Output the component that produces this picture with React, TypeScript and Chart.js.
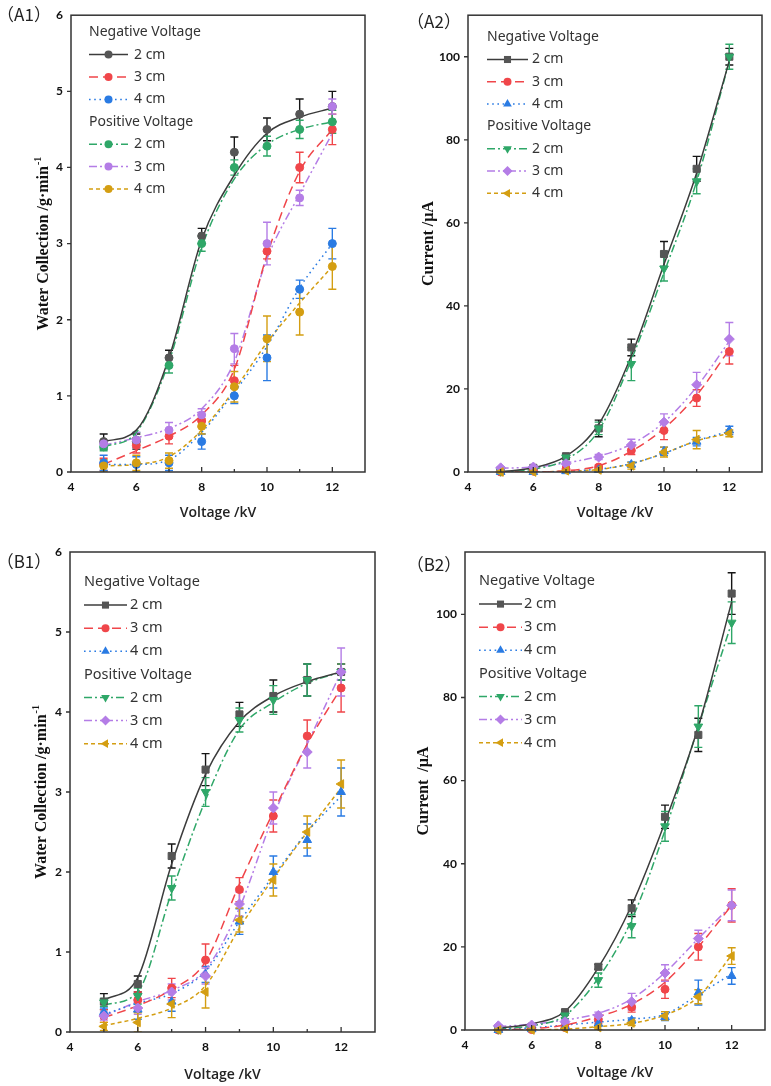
import React, { useEffect, useRef } from 'react';
import { Chart, registerables } from 'chart.js';

Chart.register(...registerables);

// Applied voltage (kV) shared by every series
const voltageKV = [5, 6, 7, 8, 9, 10, 11, 12];

// ---- (A1) water collection, g/min ----
const a1Neg2 = [0.4, 0.4, 1.5, 3.1, 4.2, 4.5, 4.7, 4.8];
const a1Neg2Err = [0.1, 0.1, 0.1, 0.1, 0.2, 0.15, 0.2, 0.2];
const a1Neg2Fit = [0.4, 0.55, 1.5, 3.05, 3.9, 4.45, 4.66, 4.78];
const a1Neg3 = [0.1, 0.35, 0.47, 0.67, 1.2, 2.9, 4.0, 4.5];
const a1Neg3Err = [0.08, 0.1, 0.1, 0.08, 0.2, 0.1, 0.2, 0.2];
const a1Neg3Fit = [0.1, 0.28, 0.47, 0.75, 1.35, 2.85, 3.95, 4.5];
const a1Neg4 = [0.12, 0.1, 0.12, 0.4, 1.0, 1.5, 2.4, 3.0];
const a1Neg4Err = [0.1, 0.1, 0.1, 0.1, 0.1, 0.3, 0.12, 0.2];
const a1Neg4Fit = [0.1, 0.1, 0.16, 0.52, 1.05, 1.65, 2.42, 3.0];
const a1Pos2 = [0.33, 0.42, 1.4, 3.0, 4.0, 4.28, 4.5, 4.6];
const a1Pos2Err = [0.05, 0.1, 0.1, 0.1, 0.1, 0.13, 0.12, 0.15];
const a1Pos2Fit = [0.33, 0.52, 1.45, 2.95, 3.85, 4.3, 4.5, 4.6];
const a1Pos3 = [0.37, 0.42, 0.55, 0.75, 1.62, 3.0, 3.6, 4.8];
const a1Pos3Err = [0.05, 0.1, 0.1, 0.08, 0.2, 0.28, 0.1, 0.1];
const a1Pos3Fit = [0.35, 0.45, 0.57, 0.83, 1.45, 2.8, 3.65, 4.45];
const a1Pos4 = [0.08, 0.12, 0.15, 0.6, 1.12, 1.75, 2.1, 2.7];
const a1Pos4Err = [0.08, 0.1, 0.1, 0.1, 0.2, 0.3, 0.3, 0.3];
const a1Pos4Fit = [0.08, 0.1, 0.2, 0.55, 1.08, 1.7, 2.22, 2.7];

// ---- (A2) current, uA ----
const a2Neg2 = [0.3, 1, 3.8, 10.5, 30, 52.5, 73, 100];
const a2Neg2Err = [0.2, 0.3, 0.5, 2, 2, 3, 3, 2];
const a2Neg2Fit = [0.1, 1, 3.8, 11.5, 28, 50, 72, 99];
const a2Neg3 = [0, 0.2, 0.7, 1.2, 5.2, 10, 17.8, 29];
const a2Neg3Err = [0.2, 0.2, 0.5, 0.5, 1, 2.2, 2, 3];
const a2Neg3Fit = [0, 0, 0.3, 1.5, 5, 10.5, 18.5, 29.5];
const a2Neg4 = [0, 0, 0.2, 0.5, 1.8, 5, 7.3, 10];
const a2Neg4Err = [0.1, 0.1, 0.2, 0.3, 0.6, 1, 1, 1];
const a2Neg4Fit = [0, 0, 0.2, 0.7, 2, 4.5, 7.5, 9.8];
const a2Pos2 = [0.2, 0.8, 3.5, 10.5, 26, 49, 70, 100];
const a2Pos2Err = [0.2, 0.3, 0.5, 1.5, 4, 3, 3, 3];
const a2Pos2Fit = [0, 0.7, 3, 10, 27, 48, 70, 99];
const a2Pos3 = [1, 1.2, 2, 3.6, 6.5, 12, 21, 32];
const a2Pos3Err = [0.3, 0.3, 0.5, 0.6, 1.4, 2, 3, 4];
const a2Pos3Fit = [0.9, 1.2, 2.2, 3.8, 6.7, 12, 20.5, 31.5];
const a2Pos4 = [0, 0, 0.3, 0.5, 1.5, 4.8, 7.8, 9.3];
const a2Pos4Err = [0.1, 0.1, 0.3, 0.5, 0.8, 1.2, 2.2, 0.8];
const a2Pos4Fit = [0, 0, 0.2, 0.6, 2, 4.5, 7.5, 9.3];

// ---- (B1) water collection, g/min ----
const b1Neg2 = [0.38, 0.6, 2.2, 3.28, 3.97, 4.2, 4.4, 4.5];
const b1Neg2Err = [0.1, 0.1, 0.15, 0.2, 0.15, 0.2, 0.2, 0.1];
const b1Neg2Fit = [0.4, 0.68, 2.1, 3.22, 3.88, 4.2, 4.38, 4.5];
const b1Neg3 = [0.2, 0.4, 0.55, 0.9, 1.78, 2.7, 3.7, 4.3];
const b1Neg3Err = [0.08, 0.1, 0.12, 0.2, 0.15, 0.2, 0.2, 0.3];
const b1Neg3Fit = [0.18, 0.33, 0.53, 0.88, 1.85, 2.75, 3.6, 4.3];
const b1Neg4 = [0.25, 0.28, 0.38, 0.72, 1.38, 2.0, 2.4, 3.0];
const b1Neg4Err = [0.05, 0.12, 0.12, 0.1, 0.16, 0.2, 0.2, 0.3];
const b1Neg4Fit = [0.22, 0.36, 0.48, 0.76, 1.38, 1.95, 2.5, 2.95];
const b1Pos2 = [0.37, 0.45, 1.8, 3.0, 3.9, 4.15, 4.4, 4.5];
const b1Pos2Err = [0.05, 0.1, 0.15, 0.18, 0.15, 0.18, 0.2, 0.1];
const b1Pos2Fit = [0.34, 0.5, 1.75, 2.9, 3.78, 4.12, 4.36, 4.5];
const b1Pos3 = [0.2, 0.3, 0.5, 0.7, 1.6, 2.8, 3.5, 4.5];
const b1Pos3Err = [0.05, 0.08, 0.1, 0.1, 0.15, 0.2, 0.2, 0.3];
const b1Pos3Fit = [0.2, 0.38, 0.52, 0.78, 1.55, 2.7, 3.6, 4.5];
const b1Pos4 = [0.07, 0.12, 0.35, 0.5, 1.4, 1.9, 2.5, 3.1];
const b1Pos4Err = [0.05, 0.12, 0.17, 0.2, 0.15, 0.2, 0.2, 0.3];
const b1Pos4Fit = [0.08, 0.17, 0.3, 0.58, 1.3, 1.92, 2.5, 3.05];

// ---- (B2) current, uA ----
const b2Neg2 = [0.3, 0.8, 4.3, 15.2, 29.3, 51.3, 71, 105];
const b2Neg2Err = [0.2, 0.3, 0.6, 0.6, 2, 2.8, 4, 5];
const b2Neg2Fit = [0.4, 1.5, 4.5, 15, 30, 50, 73, 103];
const b2Neg3 = [0, 0.1, 0.6, 2.5, 5.5, 9.8, 20, 30];
const b2Neg3Err = [0.1, 0.2, 0.4, 1, 1.2, 2.2, 3.2, 4];
const b2Neg3Fit = [0, 0.3, 1.2, 3.2, 6.2, 11.5, 20, 30];
const b2Neg4 = [0, 0.2, 0.8, 1.5, 2.3, 3.1, 9, 13];
const b2Neg4Err = [0.1, 0.2, 0.3, 0.5, 0.6, 0.8, 3, 2];
const b2Neg4Fit = [0.1, 0.5, 1.2, 1.9, 2.6, 3.8, 8.5, 13.5];
const b2Pos2 = [0.2, 0.6, 3.5, 12, 25, 49, 73, 98];
const b2Pos2Err = [0.2, 0.3, 0.8, 1.7, 2.8, 3.6, 5, 5];
const b2Pos2Fit = [0.2, 1, 3.5, 12.5, 26.5, 48, 73, 98];
const b2Pos3 = [1, 1.2, 2, 3.5, 6.8, 13.7, 22, 30];
const b2Pos3Err = [0.3, 0.3, 0.5, 0.8, 2, 2, 2, 3.7];
const b2Pos3Fit = [0.8, 1.4, 2.4, 4, 7.5, 13.8, 22, 30];
const b2Pos4 = [0, 0, 0.3, 0.6, 1.7, 3.4, 8, 17.8];
const b2Pos4Err = [0.1, 0.1, 0.2, 0.5, 0.6, 1, 1.7, 2];
const b2Pos4Fit = [0, 0.05, 0.2, 0.8, 1.6, 3.6, 8, 18];

const legendHeaders = ['Negative Voltage', 'Positive Voltage'];
const gapLabels = ['2 cm', '3 cm', '4 cm'];

type MarkerKind = 'circle' | 'rect' | 'triangle' | 'triangleDown' | 'rectRot' | 'triangleLeft';

interface SeriesStyle {
  color: string;
  lineColor: string;
  errColor: string;
  dash: number[];
  marker: MarkerKind;
}

// Order: negative 2/3/4 cm, positive 2/3/4 cm
const seriesStyles: SeriesStyle[] = [
  { color: '#555555', lineColor: '#3c3c3c', errColor: '#151515', dash: [], marker: 'rect' },
  { color: '#f0464a', lineColor: '#f0464a', errColor: '#f0464a', dash: [9, 5], marker: 'circle' },
  { color: '#2a7be3', lineColor: '#2a7be3', errColor: '#2a7be3', dash: [1.6, 3.6], marker: 'triangle' },
  { color: '#2fa768', lineColor: '#2fa768', errColor: '#2fa768', dash: [8, 3, 2, 3], marker: 'triangleDown' },
  { color: '#b47de6', lineColor: '#b47de6', errColor: '#b47de6', dash: [8, 3, 2, 3, 2, 3], marker: 'rectRot' },
  { color: '#d49e12', lineColor: '#d49e12', errColor: '#d49e12', dash: [4, 3], marker: 'triangleLeft' },
];

const markerGeom: Record<MarkerKind, { style: string; rotation: number; radius: number }> = {
  circle: { style: 'circle', rotation: 0, radius: 4 },
  rect: { style: 'rect', rotation: 0, radius: 5 },
  triangle: { style: 'triangle', rotation: 0, radius: 5 },
  triangleDown: { style: 'triangle', rotation: 180, radius: 5 },
  rectRot: { style: 'rectRot', rotation: 0, radius: 5 },
  triangleLeft: { style: 'triangle', rotation: 270, radius: 5 },
};

interface Series { values: number[]; err: number[]; fit: number[] }

interface PanelCfg {
  id: string;
  label: string;
  box: { left: number; top: number; w: number; h: number };
  plot: { l: number; r: number; t: number; b: number };
  yMax: number;
  yStep: number;
  yTitle: string;
  ySup: string;
  yTitleX: number;
  xTitleY: number;
  labelPos: [number, number];
  allCircles: boolean;
  legend: { top: number; step: number; lineX: number; lineLen: number; textX: number; font: number };
  series: Series[];
}

const panels: PanelCfg[] = [
  {
    id: 'A1', label: '（A1）',
    box: { left: 0, top: 0, w: 385, h: 535 },
    plot: { l: 71, r: 365, t: 9, b: 472 },
    yMax: 6, yStep: 1, yTitle: 'Water Collection /g·min', ySup: '-1', yTitleX: 44, xTitleY: 513,
    labelPos: [24, 15], allCircles: true,
    legend: { top: 17, step: 22.4, lineX: 18, lineLen: 39, textX: 63, font: 14 },
    series: [
      { values: a1Neg2, err: a1Neg2Err, fit: a1Neg2Fit },
      { values: a1Neg3, err: a1Neg3Err, fit: a1Neg3Fit },
      { values: a1Neg4, err: a1Neg4Err, fit: a1Neg4Fit },
      { values: a1Pos2, err: a1Pos2Err, fit: a1Pos2Fit },
      { values: a1Pos3, err: a1Pos3Err, fit: a1Pos3Fit },
      { values: a1Pos4, err: a1Pos4Err, fit: a1Pos4Fit },
    ],
  },
  {
    id: 'A2', label: '（A2）',
    box: { left: 385, top: 0, w: 386, h: 535 },
    plot: { l: 83, r: 377, t: 9, b: 472 },
    yMax: 110, yStep: 20, yTitle: 'Current /μA', ySup: '', yTitleX: 44, xTitleY: 513,
    labelPos: [49, 22], allCircles: false,
    legend: { top: 22, step: 22.3, lineX: 19, lineLen: 41, textX: 64, font: 14 },
    series: [
      { values: a2Neg2, err: a2Neg2Err, fit: a2Neg2Fit },
      { values: a2Neg3, err: a2Neg3Err, fit: a2Neg3Fit },
      { values: a2Neg4, err: a2Neg4Err, fit: a2Neg4Fit },
      { values: a2Pos2, err: a2Pos2Err, fit: a2Pos2Fit },
      { values: a2Pos3, err: a2Pos3Err, fit: a2Pos3Fit },
      { values: a2Pos4, err: a2Pos4Err, fit: a2Pos4Fit },
    ],
  },
  {
    id: 'B1', label: '（B1）',
    box: { left: 0, top: 535, w: 385, h: 551 },
    plot: { l: 70, r: 375, t: 17, b: 497 },
    yMax: 6, yStep: 1, yTitle: 'Water Collection /g·min', ySup: '-1', yTitleX: 42, xTitleY: 1075,
    labelPos: [24, 27], allCircles: false,
    legend: { top: 30, step: 23.1, lineX: 14, lineLen: 43, textX: 60, font: 14.5 },
    series: [
      { values: b1Neg2, err: b1Neg2Err, fit: b1Neg2Fit },
      { values: b1Neg3, err: b1Neg3Err, fit: b1Neg3Fit },
      { values: b1Neg4, err: b1Neg4Err, fit: b1Neg4Fit },
      { values: b1Pos2, err: b1Pos2Err, fit: b1Pos2Fit },
      { values: b1Pos3, err: b1Pos3Err, fit: b1Pos3Fit },
      { values: b1Pos4, err: b1Pos4Err, fit: b1Pos4Fit },
    ],
  },
  {
    id: 'B2', label: '（B2）',
    box: { left: 385, top: 535, w: 386, h: 551 },
    plot: { l: 80, r: 383, t: 17, b: 495 },
    yMax: 115, yStep: 20, yTitle: 'Current  /μA', ySup: '', yTitleX: 39, xTitleY: 1073,
    labelPos: [49, 30], allCircles: false,
    legend: { top: 29, step: 23.1, lineX: 14, lineLen: 43, textX: 59, font: 14.5 },
    series: [
      { values: b2Neg2, err: b2Neg2Err, fit: b2Neg2Fit },
      { values: b2Neg3, err: b2Neg3Err, fit: b2Neg3Fit },
      { values: b2Neg4, err: b2Neg4Err, fit: b2Neg4Fit },
      { values: b2Pos2, err: b2Pos2Err, fit: b2Pos2Fit },
      { values: b2Pos3, err: b2Pos3Err, fit: b2Pos3Fit },
      { values: b2Pos4, err: b2Pos4Err, fit: b2Pos4Fit },
    ],
  },
];

function traceMarker(ctx: CanvasRenderingContext2D, kind: MarkerKind, x: number, y: number) {
  const g = markerGeom[kind];
  const r = g.radius;
  ctx.beginPath();
  if (g.style === 'circle') {
    ctx.arc(x, y, r, 0, Math.PI * 2);
  } else if (g.style === 'rect') {
    const s = r * Math.SQRT1_2;
    ctx.rect(x - s, y - s, 2 * s, 2 * s);
  } else if (g.style === 'rectRot') {
    ctx.moveTo(x - r, y);
    ctx.lineTo(x, y - r);
    ctx.lineTo(x + r, y);
    ctx.lineTo(x, y + r);
    ctx.closePath();
  } else {
    let rad = (g.rotation * Math.PI) / 180;
    ctx.moveTo(x + Math.sin(rad) * r, y - Math.cos(rad) * r);
    rad += (2 * Math.PI) / 3;
    ctx.lineTo(x + Math.sin(rad) * r, y - Math.cos(rad) * r);
    rad += (2 * Math.PI) / 3;
    ctx.lineTo(x + Math.sin(rad) * r, y - Math.cos(rad) * r);
    ctx.closePath();
  }
}

function decorPlugin(cfg: PanelCfg) {
  return {
    id: 'decor' + cfg.id,
    beforeDatasetsDraw(chart: any) {
      const { ctx, chartArea: a } = chart;
      const xs = chart.scales.x;
      const ys = chart.scales.y;
      ctx.save();
      ctx.beginPath();
      ctx.rect(a.left, a.top - 1, a.right - a.left, a.bottom - a.top + 1);
      ctx.clip();
      ctx.setLineDash([]);
      ctx.lineWidth = 1.4;
      cfg.series.forEach((s, si) => {
        ctx.strokeStyle = seriesStyles[si].errColor;
        voltageKV.forEach((v, i) => {
          const px = xs.getPixelForValue(v);
          const top = ys.getPixelForValue(s.values[i] + s.err[i]);
          const bot = ys.getPixelForValue(s.values[i] - s.err[i]);
          ctx.beginPath();
          ctx.moveTo(px, top);
          ctx.lineTo(px, bot);
          ctx.moveTo(px - 4, top);
          ctx.lineTo(px + 4, top);
          ctx.moveTo(px - 4, bot);
          ctx.lineTo(px + 4, bot);
          ctx.stroke();
        });
      });
      ctx.restore();
    },
    afterDraw(chart: any) {
      const { ctx, chartArea: a } = chart;
      const xs = chart.scales.x;
      const ys = chart.scales.y;
      ctx.save();
      ctx.setLineDash([]);

      // frame
      ctx.strokeStyle = '#333333';
      ctx.lineWidth = 1.5;
      ctx.strokeRect(a.left, a.top, a.right - a.left, a.bottom - a.top);

      // x ticks point into the plot, long at even kV
      ctx.lineWidth = 1.3;
      ctx.beginPath();
      for (let v = 5; v <= 12; v++) {
        const px = xs.getPixelForValue(v);
        const len = v % 2 === 0 ? 5 : 3;
        ctx.moveTo(px, a.bottom);
        ctx.lineTo(px, a.bottom - len);
      }
      // y ticks point outward
      for (let v = 0; v < cfg.yMax; v += cfg.yStep) {
        const py = ys.getPixelForValue(v);
        ctx.moveTo(a.left, py);
        ctx.lineTo(a.left - 4, py);
      }
      ctx.stroke();

      // x title
      ctx.fillStyle = '#222222';
      ctx.font = '600 14px "Open Sans"';
      ctx.textAlign = 'center';
      ctx.textBaseline = 'middle';
      ctx.fillText('Voltage /kV', (a.left + a.right) / 2, cfg.xTitleY - cfg.box.top);

      // y title (serif, with optional superscript)
      ctx.save();
      ctx.translate(cfg.yTitleX, (a.top + a.bottom) / 2);
      ctx.rotate(-Math.PI / 2);
      const mainFont = 'bold 16px "Liberation Serif"';
      const supFont = 'bold 10px "Liberation Serif"';
      ctx.font = mainFont;
      const w1 = ctx.measureText(cfg.yTitle).width;
      ctx.font = supFont;
      const w2 = cfg.ySup ? ctx.measureText(cfg.ySup).width + 1 : 0;
      const start = -(w1 + w2) / 2;
      ctx.textAlign = 'left';
      ctx.fillStyle = '#111111';
      ctx.font = mainFont;
      ctx.fillText(cfg.yTitle, start, 0);
      if (cfg.ySup) {
        ctx.font = supFont;
        ctx.fillText(cfg.ySup, start + w1 + 1, -6);
      }
      ctx.restore();

      // panel label
      ctx.font = '17px "Noto Sans CJK SC"';
      ctx.fillStyle = '#222222';
      ctx.textAlign = 'center';
      ctx.textBaseline = 'middle';
      ctx.fillText(cfg.label, cfg.labelPos[0], cfg.labelPos[1]);

      // legend with two group headers
      const lg = cfg.legend;
      ctx.font = `${lg.font}px "Noto Sans"`;
      ctx.textAlign = 'left';
      ctx.textBaseline = 'middle';
      let row = 0;
      for (let g = 0; g < 2; g++) {
        const yHead = a.top + lg.top + row * lg.step;
        ctx.fillStyle = '#333333';
        ctx.fillText(legendHeaders[g], a.left + lg.lineX, yHead);
        row++;
        for (let k = 0; k < 3; k++) {
          const si = g * 3 + k;
          const st = seriesStyles[si];
          const yy = a.top + lg.top + row * lg.step;
          const x0 = a.left + lg.lineX;
          ctx.strokeStyle = st.lineColor;
          ctx.lineWidth = 1.5;
          ctx.setLineDash(st.dash);
          ctx.beginPath();
          ctx.moveTo(x0, yy);
          ctx.lineTo(x0 + lg.lineLen, yy);
          ctx.stroke();
          ctx.setLineDash([]);
          ctx.fillStyle = st.color;
          traceMarker(ctx, cfg.allCircles ? 'circle' : st.marker, x0 + lg.lineLen / 2, yy);
          ctx.fill();
          ctx.fillStyle = '#333333';
          ctx.fillText(gapLabels[k], a.left + lg.textX, yy);
          row++;
        }
      }
      ctx.restore();
    },
  };
}

function buildConfig(cfg: PanelCfg): any {
  const datasets: any[] = [];
  cfg.series.forEach((s, si) => {
    const st = seriesStyles[si];
    const kind: MarkerKind = cfg.allCircles ? 'circle' : st.marker;
    const g = markerGeom[kind];
    datasets.push({
      label: `fit-${si}`,
      data: voltageKV.map((v, i) => ({ x: v, y: s.fit[i] })),
      borderColor: st.lineColor,
      borderWidth: 1.5,
      borderDash: st.dash,
      pointRadius: 0,
      cubicInterpolationMode: 'monotone',
      fill: false,
      order: 10,
    });
    datasets.push({
      label: `data-${si}`,
      data: voltageKV.map((v, i) => ({ x: v, y: s.values[i] })),
      showLine: false,
      pointStyle: g.style,
      rotation: g.rotation,
      pointRotation: g.rotation,
      pointRadius: g.radius,
      pointBackgroundColor: st.color,
      pointBorderColor: st.color,
      pointBorderWidth: 1,
      clip: false,
      order: 5 - si,
    });
  });

  const tickFont = { family: '"Lato", "Liberation Sans", sans-serif', size: 12, weight: 'bold' as const };
  const H = cfg.box.h;
  const W = cfg.box.w;

  return {
    type: 'line',
    data: { datasets },
    options: {
      responsive: false,
      maintainAspectRatio: false,
      animation: false,
      events: [],
      layout: { padding: { top: cfg.plot.t, right: W - cfg.plot.r, left: 0, bottom: 0 } },
      plugins: { legend: { display: false }, tooltip: { enabled: false } },
      scales: {
        x: {
          type: 'linear',
          min: 4,
          max: 13,
          grid: { display: false, drawTicks: false },
          border: { display: false },
          ticks: { stepSize: 2, includeBounds: false, padding: 8, color: '#111111', font: tickFont, maxRotation: 0 },
          afterFit: (scale: any) => { scale.height = H - cfg.plot.b; },
        },
        y: {
          type: 'linear',
          min: 0,
          max: cfg.yMax,
          grid: { display: false, drawTicks: false },
          border: { display: false },
          ticks: { stepSize: cfg.yStep, includeBounds: false, padding: 8, color: '#111111', font: tickFont },
          afterFit: (scale: any) => { scale.width = cfg.plot.l; },
        },
      },
    },
    plugins: [decorPlugin(cfg)],
  };
}

function Panel({ cfg }: { cfg: PanelCfg }) {
  const ref = useRef<HTMLCanvasElement>(null);
  useEffect(() => {
    if (!ref.current) return;
    const chart = new Chart(ref.current, buildConfig(cfg));
    return () => chart.destroy();
  }, [cfg]);
  return (
    <canvas
      ref={ref}
      width={cfg.box.w}
      height={cfg.box.h}
      style={{ position: 'absolute', left: cfg.box.left, top: cfg.box.top, width: cfg.box.w, height: cfg.box.h }}
    />
  );
}

export default function App() {
  return (
    <div style={{ position: 'absolute', left: 0, top: 0, width: 771, height: 1086, background: '#ffffff', overflow: 'hidden' }}>
      {panels.map((p) => (
        <Panel key={p.id} cfg={p} />
      ))}
    </div>
  );
}
